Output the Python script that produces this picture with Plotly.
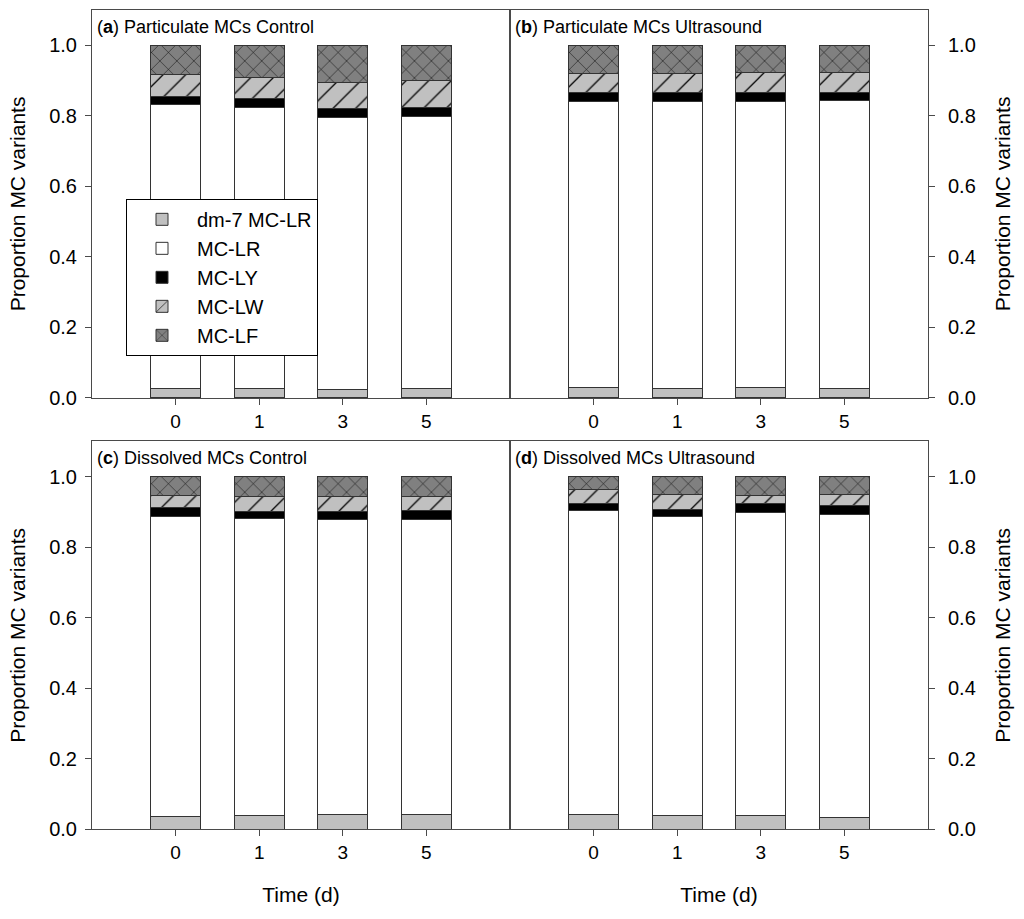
import plotly.graph_objects as go
from plotly.subplots import make_subplots

times = ["0", "1", "3", "5"]
panel_letters = ["a", "b", "c", "d"]
panel_titles = ["Particulate MCs Control", "Particulate MCs Ultrasound",
                "Dissolved MCs Control", "Dissolved MCs Ultrasound"]
series_names = ["dm-7 MC-LR", "MC-LR", "MC-LY", "MC-LW", "MC-LF"]

# rows = panels a, b, c, d ; columns = times 0, 1, 3, 5
dm7_mclr = [[0.026, 0.026, 0.024, 0.026],
            [0.029, 0.026, 0.029, 0.028],
            [0.037, 0.040, 0.042, 0.042],
            [0.042, 0.040, 0.038, 0.034]]
mc_lr = [[0.806, 0.798, 0.770, 0.771],
         [0.812, 0.815, 0.812, 0.815],
         [0.850, 0.841, 0.837, 0.837],
         [0.862, 0.847, 0.860, 0.859]]
mc_ly = [[0.023, 0.025, 0.026, 0.027],
         [0.026, 0.024, 0.026, 0.022],
         [0.025, 0.019, 0.021, 0.024],
         [0.020, 0.020, 0.026, 0.024]]
mc_lw = [[0.062, 0.060, 0.075, 0.077],
         [0.054, 0.054, 0.055, 0.057],
         [0.035, 0.043, 0.043, 0.040],
         [0.038, 0.041, 0.021, 0.031]]
mc_lf = [[0.083, 0.091, 0.105, 0.099],
         [0.079, 0.081, 0.078, 0.078],
         [0.053, 0.057, 0.057, 0.057],
         [0.038, 0.052, 0.055, 0.052]]

series_values = [dm7_mclr, mc_lr, mc_ly, mc_lw, mc_lf]
fill_colors = ["#c0c0c0", "#ffffff", "#000000", "#c0c0c0", "#808080"]
patterns = ["", "", "", "/", "x"]
pattern_sizes = [0, 0, 0, 16, 12]

FONT = "Liberation Sans, Arial, sans-serif"
LINE = "#4a4a4a"

fig = make_subplots(rows=2, cols=2)

for p in range(4):
    r = p // 2 + 1
    c = p % 2 + 1
    for s, name in enumerate(series_names):
        marker = dict(color=fill_colors[s], line=dict(color="#333333", width=1))
        if patterns[s]:
            marker["pattern"] = dict(shape=patterns[s], bgcolor=fill_colors[s],
                                     fgcolor="#000000", size=pattern_sizes[s],
                                     solidity=0.08, fillmode="replace")
        fig.add_trace(go.Bar(x=times, y=series_values[s][p], name=name,
                             marker=marker, width=0.6, legendgroup=name,
                             showlegend=(p == 0)), row=r, col=c)

W, H = 1024, 928
S = 0.989  # vertical scale between page and photograph


def fx(px):
    return px / W


def fy(py):
    return 1 - (py / S) / H


xdom = [[fx(92), fx(510)], [fx(510), fx(928)]]
ydom = [[fy(398.3), fy(10)], [fy(830), fy(441.7)]]

for p in range(4):
    r = p // 2
    c = p % 2
    ax = "" if p == 0 else str(p + 1)
    fig.layout["xaxis" + ax].update(
        domain=xdom[c], type="category", range=[-1, 4],
        showline=True, linecolor=LINE, linewidth=1, mirror=True,
        ticks="outside", ticklen=6, tickcolor=LINE,
        tickfont=dict(family=FONT, size=19, color="#000"),
        showgrid=False, zeroline=False)
    fig.layout["yaxis" + ax].update(
        domain=ydom[r], range=[0, 1.1],
        tickvals=[0, 0.2, 0.4, 0.6, 0.8, 1.0], tickformat=".1f",
        side="left" if c == 0 else "right",
        showline=True, linecolor=LINE, linewidth=1, mirror=True,
        ticks="outside", ticklen=6, tickcolor=LINE,
        ticklabelstandoff=4 if c == 0 else 9,
        tickfont=dict(family=FONT, size=20, color="#000"),
        title=dict(text="Proportion MC variants",
                   font=dict(family=FONT, size=21, color="#000"),
                   standoff=17 if c == 0 else 20),
        showgrid=False, zeroline=False)
    if r == 1:
        fig.layout["xaxis" + ax].update(
            title=dict(text="Time (d)", font=dict(family=FONT, size=21, color="#000"),
                       standoff=25))
    fig.add_annotation(xref=("x" + ax) + " domain", yref=("y" + ax) + " domain",
                       x=0.008, y=1, xanchor="left", yanchor="top", yshift=-5,
                       text="(<b>%s</b>) %s" % (panel_letters[p], panel_titles[p]),
                       showarrow=False, font=dict(family=FONT, size=18, color="#000"))

fig.update_layout(
    width=W, height=H, barmode="stack", bargap=0.4,
    margin=dict(l=0, r=0, t=0, b=0),
    paper_bgcolor="white", plot_bgcolor="white",
    font=dict(family=FONT, color="#000"),
    legend=dict(x=fx(126), y=fy(199), xanchor="left", yanchor="top",
                traceorder="normal", bgcolor="white", bordercolor="#000",
                borderwidth=1, font=dict(family=FONT, size=20, color="#000"),
                itemwidth=60, tracegroupgap=0),
)

fig.write_html("out.html", config={"displayModeBar": False},
               post_script="document.body.style.margin='0px';")
